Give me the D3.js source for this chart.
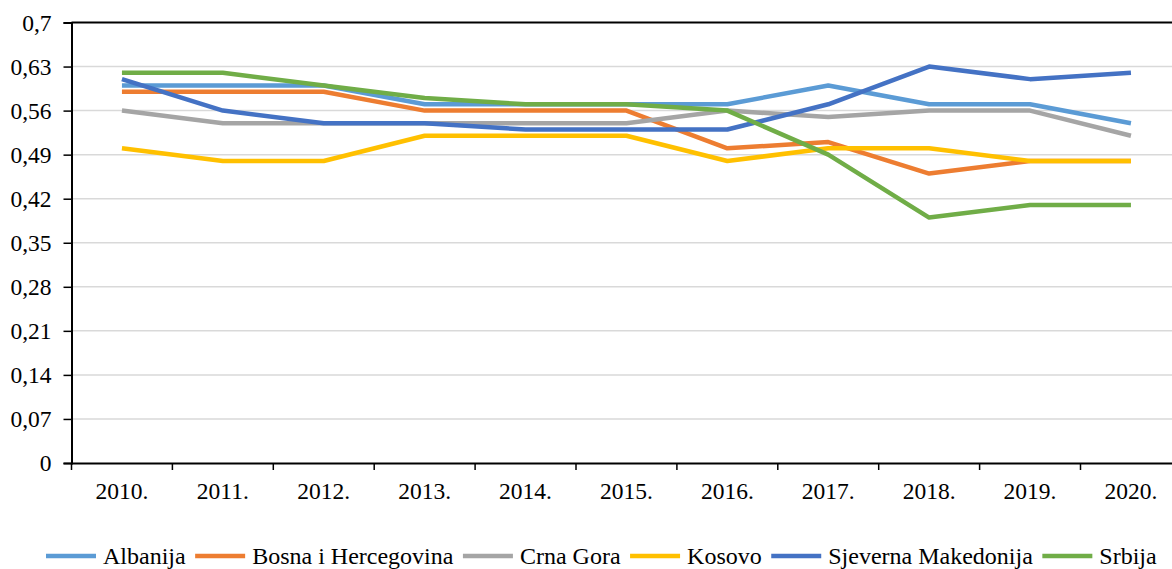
<!DOCTYPE html>
<html>
<head>
<meta charset="utf-8">
<script src="https://cdn.jsdelivr.net/npm/d3@7"></script>
<style>
  body { margin: 0; background: #ffffff; }
  svg { display: block; }
  svg text { font-family: "Liberation Serif", "Times New Roman", serif; }
</style>
</head>
<body>
<div id="chart"></div>
<script>
// data
const years = ["2010.", "2011.", "2012.", "2013.", "2014.", "2015.", "2016.", "2017.", "2018.", "2019.", "2020."];
const seriesNames = ["Albanija", "Bosna i Hercegovina", "Crna Gora", "Kosovo", "Sjeverna Makedonija", "Srbija"];
const albanija    = [0.60, 0.60, 0.60, 0.57, 0.57, 0.57, 0.57, 0.60, 0.57, 0.57, 0.54];
const bih         = [0.59, 0.59, 0.59, 0.56, 0.56, 0.56, 0.50, 0.51, 0.46, 0.48, 0.48];
const crnaGora    = [0.56, 0.54, 0.54, 0.54, 0.54, 0.54, 0.56, 0.55, 0.56, 0.56, 0.52];
const kosovo      = [0.50, 0.48, 0.48, 0.52, 0.52, 0.52, 0.48, 0.50, 0.50, 0.48, 0.48];
const sjMakedonija = [0.61, 0.56, 0.54, 0.54, 0.53, 0.53, 0.53, 0.57, 0.63, 0.61, 0.62];
const srbija      = [0.62, 0.62, 0.60, 0.58, 0.57, 0.57, 0.56, 0.49, 0.39, 0.41, 0.41];
const yTicks = [0, 0.07, 0.14, 0.21, 0.28, 0.35, 0.42, 0.49, 0.56, 0.63, 0.7];
const colors = ["#5B9BD5", "#ED7D31", "#A5A5A5", "#FFC000", "#4472C4", "#70AD47"];

const allValues = [albanija, bih, crnaGora, kosovo, sjMakedonija, srbija];

const width = 1172, height = 569;
const margin = {top: 22.5, left: 71.5, bottom: 463};
const plotRight = 71.5 + 11 * 100.9;
const fontSize = 23.5;

const svg = d3.select("#chart").append("svg")
  .attr("width", width)
  .attr("height", height);

const x = d3.scaleBand()
  .domain(years)
  .range([margin.left, plotRight]);

const y = d3.scaleLinear()
  .domain([0, 0.7])
  .range([margin.bottom, margin.top]);

const fmt = d => String(+d.toFixed(2)).replace(".", ",");

// gridlines
svg.append("g")
  .selectAll("line")
  .data(yTicks.filter(d => d > 0 && d < 0.7))
  .join("line")
    .attr("x1", margin.left)
    .attr("x2", plotRight)
    .attr("y1", d => y(d))
    .attr("y2", d => y(d))
    .attr("stroke", "#d9d9d9")
    .attr("stroke-width", 1.5);

// top border
svg.append("line")
  .attr("x1", margin.left).attr("x2", plotRight)
  .attr("y1", y(0.7)).attr("y2", y(0.7))
  .attr("stroke", "#000").attr("stroke-width", 2);

// y axis
const yAxis = svg.append("g")
  .attr("transform", `translate(${margin.left},0)`)
  .call(d3.axisLeft(y).tickValues(yTicks).tickFormat(fmt).tickSize(8).tickPadding(12));
yAxis.select(".domain").attr("stroke", "#000").attr("stroke-width", 2);
yAxis.selectAll(".tick line").attr("stroke", "#000").attr("stroke-width", 1.5);
yAxis.selectAll("text")
  .style("font-family", "'Liberation Serif', 'Times New Roman', serif")
  .style("font-size", fontSize + "px").attr("fill", "#000");

// x axis
const xAxis = svg.append("g")
  .attr("transform", `translate(0,${margin.bottom})`)
  .call(d3.axisBottom(x).tickSize(0).tickPadding(0));
xAxis.select(".domain").attr("stroke", "#000").attr("stroke-width", 2);
xAxis.selectAll("text")
  .attr("y", 36)
  .attr("dy", null)
  .style("font-family", "'Liberation Serif', 'Times New Roman', serif")
  .style("font-size", fontSize + "px").attr("fill", "#000");

// tick marks at category boundaries
svg.append("g")
  .selectAll("line")
  .data(years)
  .join("line")
    .attr("x1", d => x(d))
    .attr("x2", d => x(d))
    .attr("y1", margin.bottom)
    .attr("y2", margin.bottom + 7)
    .attr("stroke", "#000")
    .attr("stroke-width", 1.5);

// lines
const line = d3.line()
  .x((d, i) => x(years[i]) + x.bandwidth() / 2)
  .y(d => y(d));

svg.append("g")
  .selectAll("path")
  .data(allValues)
  .join("path")
    .attr("d", d => line(d))
    .attr("fill", "none")
    .attr("stroke", (d, i) => colors[i])
    .attr("stroke-width", 4.5)
    .attr("stroke-linejoin", "round");

// legend
const legend = svg.append("g").attr("transform", "translate(0,556)");
let lx = 46;
seriesNames.forEach(function(name, i) {
  legend.append("line")
    .attr("x1", lx).attr("x2", lx + 50)
    .attr("y1", 0).attr("y2", 0)
    .attr("stroke", colors[i])
    .attr("stroke-width", 4.5);
  const t = legend.append("text")
    .attr("x", lx + 57)
    .attr("y", 8)
    .style("font-size", "24px")
    .attr("fill", "#000")
    .text(name);
  lx += 57 + t.node().getComputedTextLength() + 9.5;
});
</script>
</body>
</html>
